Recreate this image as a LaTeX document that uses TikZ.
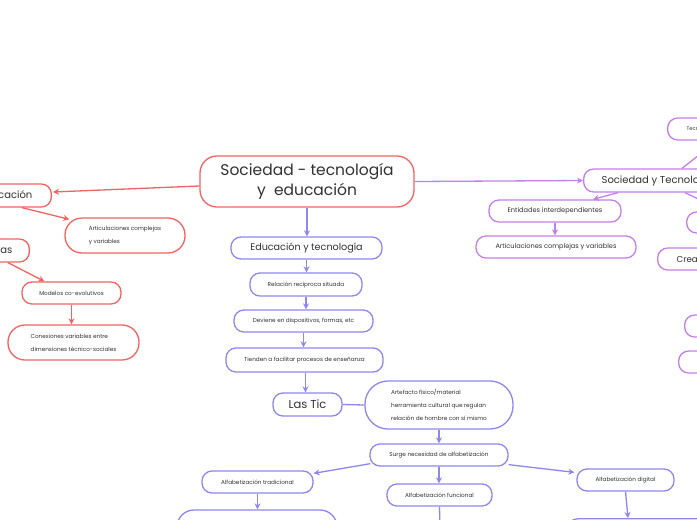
\documentclass[tikz,border=0pt]{standalone}
\usepackage{fontspec}
\setmainfont{Poppins}
\usetikzlibrary{arrows.meta,calc}
\definecolor{cred}{RGB}{242,99,99}
\definecolor{cblue}{RGB}{143,134,242}
\definecolor{cpurp}{RGB}{198,126,234}
\definecolor{ctext}{RGB}{50,50,50}
\tikzset{
  box/.style={draw, line width=1.3pt, rounded corners=10pt, fill=white, text=ctext, inner sep=0pt, align=center},
  redb/.style={box, draw=cred},
  blueb/.style={box, draw=cblue},
  purb/.style={box, draw=cpurp},
  conn/.style={line width=1.3pt},
  arr/.style={conn, -{Stealth[length=6pt,width=6pt]}},
  ftitle/.style={font=\fontsize{15.5}{20}\selectfont},
  fmid/.style={font=\fontsize{10}{13}\selectfont},
  fedu/.style={font=\fontsize{9.6}{12}\selectfont},
  ftic/.style={font=\fontsize{11.5}{14}\selectfont},
  fent/.style={font=\fontsize{6.6}{9}\selectfont},
  fsmall/.style={font=\fontsize{5.7}{12.8}\selectfont},
  ftiny/.style={font=\fontsize{5.2}{7}\selectfont},
  fcread/.style={font=\fontsize{8.6}{11}\selectfont},
}
\begin{document}
\begin{tikzpicture}[x=1pt,y=-1pt]
\useasboundingbox (0,0) rectangle (697,520);
\fill[white] (0,0) rectangle (697,520);

% ---------- red branch ----------
\node[redb, ftitle, rounded corners=17pt, minimum width=214pt, minimum height=51pt] (main) at (307,181.5) {Sociedad - tecnología\\ y\ \ educación};
\node[redb, fmid, anchor=east, inner xsep=19pt, minimum height=23pt] (cac) at (52,195.5) {Tecnología y educación};
\node[redb, fsmall, align=left, rounded corners=17pt, minimum width=120pt, minimum height=35pt] (artL) at (125,235.5) {Articulaciones complejas\\y variables};
\node[redb, fmid, anchor=east, inner xsep=17pt, minimum height=23pt] (pers) at (30,250.5) {Perspectivas};
\node[redb, fsmall, minimum width=99pt, minimum height=22pt] (mod) at (71.5,293) {Modelos co-evolutivos};
\node[redb, fsmall, align=left, rounded corners=17pt, minimum width=131pt, minimum height=35pt] (con) at (73.5,342.5) {Conexiones variables entre\\dimensiones técnico-sociales};

\draw[arr, cred] ($(main.west)+(0,4.5)$) -- ($(cac.east)+(1,-3.5)$);
\draw[arr, cred] ($(cac.south east)+(-30,0)$) -- ($(artL.north west)+(5,2)$);
\draw[arr, cred] ($(pers.south east)+(-22,0)$) -- ($(mod.north west)+(23,0)$);
\draw[arr, cred] (mod.south) -- (mod.south |- con.north);

% ---------- blue branch ----------
\node[blueb, fedu, minimum width=151pt, minimum height=22pt] (edu) at (306.5,248) {Educación y tecnología};
\node[blueb, fsmall, minimum width=112pt, minimum height=23pt] (rel) at (306,284.5) {Relación reciproca situada};
\node[blueb, fsmall, minimum width=139pt, minimum height=22pt] (dev) at (303.5,321) {Deviene en dispositivos, formas, etc};
\node[blueb, fsmall, minimum width=157pt, minimum height=24pt] (tie) at (304.5,360) {Tienden a facilitar procesos de enseñanza};
\node[blueb, ftic, minimum width=69pt, minimum height=23pt] (tic) at (307.5,404.5) {Las Tic};
\node[blueb, fsmall, align=left, rounded corners=23pt, minimum width=148pt, minimum height=48pt] (art) at (439,405) {Artefacto físico/material\\herramienta cultural que regulan\\relación de hombre con sí mismo};
\node[blueb, fsmall, minimum width=138pt, minimum height=22pt] (surge) at (439,455) {Surge necesidad de alfabetización};
\node[blueb, fsmall, minimum width=111pt, minimum height=22pt] (trad) at (257.5,482) {Alfabetización tradicional};
\node[blueb, minimum width=160pt, minimum height=40pt, rounded corners=17pt] (trad2) at (257,530) {};
\node[blueb, fsmall, minimum width=105pt, minimum height=22pt] (func) at (439.5,495) {Alfabetización funcional};
\coordinate (fdown) at (440,530);
\node[blueb, fsmall, minimum width=97pt, minimum height=22pt] (dig) at (625.5,480) {Alfabetización digital};
\node[blueb, anchor=north west, minimum width=160pt, minimum height=40pt, rounded corners=17pt] (dig2) at (562,518) {};

\draw[arr, cblue] (main.south) -- (main.south |- edu.north);
\draw[arr, cblue] (edu.south) -- (edu.south |- rel.north);
\draw[arr, cblue] (rel.south) -- (rel.south |- dev.north);
\draw[arr, cblue] (dev.south) -- (dev.south |- tie.north);
\draw[arr, cblue] ($(tie.south)+(1,0)$) -- ($(tie.south |- tic.north)+(1,0)$);
\draw[conn, cblue] (tic.east) -- (art.west);
\draw[arr, cblue] (art.south) -- (art.south |- surge.north);
\draw[arr, cblue] ($(surge.south west)+(1,-3)$) -- ($(trad.north east)+(0,3)$);
\draw[arr, cblue] (surge.south) -- (surge.south |- func.north);
\draw[arr, cblue] ($(surge.south east)+(0,-2)$) -- ($(dig.north west)+(-2,4)$);
\draw[arr, cblue] (trad.south) -- (trad.south |- trad2.north);
\draw[arr, cblue] (func.south) -- (fdown);
\draw[arr, cblue] (dig.south) -- ($(dig2.north west)+(66,0)$);

% ---------- purple branch ----------
\node[purb, fmid, anchor=west, inner xsep=18pt, minimum height=23pt] (soc) at (583,180.5) {Sociedad y Tecnología};
\node[purb, fent, minimum width=132pt, minimum height=22pt] (ent) at (555,211) {Entidades interdependientes};
\node[purb, fent, minimum width=160pt, minimum height=22pt] (art2) at (556,247) {Articulaciones complejas y variables};
\node[purb, ftiny, anchor=west, inner xsep=19pt, minimum height=22pt] (tecn) at (667,129) {Tecnología};
\node[purb, anchor=west, minimum width=60pt, minimum height=21pt] (e1) at (686,222.5) {};
\node[purb, fcread, anchor=west, inner xsep=19pt, minimum height=22pt] (cread) at (657,259) {Creadora};
\node[purb, anchor=west, minimum width=60pt, minimum height=22pt] (e2) at (684,326) {};
\node[purb, anchor=west, minimum width=60pt, minimum height=22pt] (e3) at (678,362) {};
\coordinate (t1) at (717,141);
\coordinate (t2) at (717,208);

\draw[arr, cpurp] (main.east) -- (soc.west);
\draw[arr, cpurp] ($(soc.south west)+(35,0)$) -- ($(ent.north)+(38,0)$);
\draw[arr, cpurp] (ent.south) -- (ent.south |- art2.north);
\draw[conn, cpurp] ($(soc.north west)+(99,0)$) -- (t1);
\draw[conn, cpurp] ($(soc.south west)+(102,0)$) -- (t2);
\end{tikzpicture}
\end{document}
